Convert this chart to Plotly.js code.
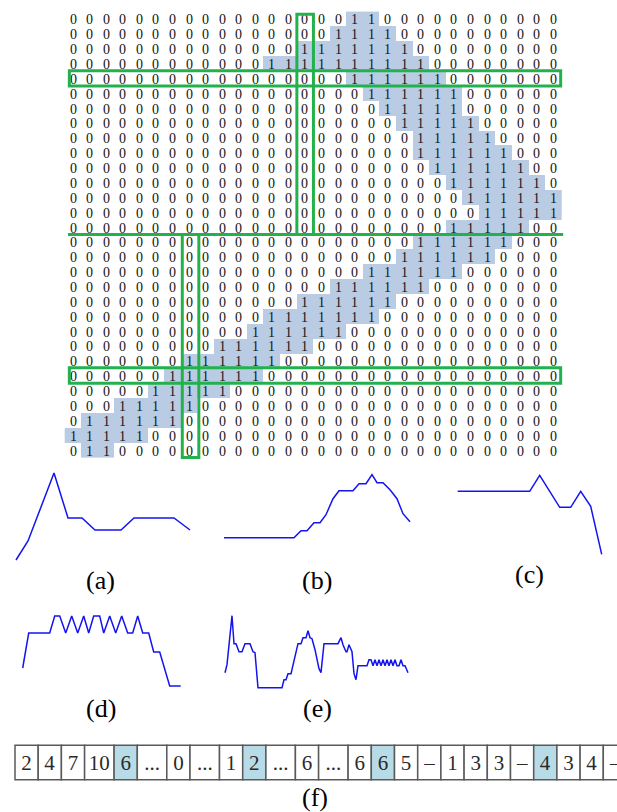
<!DOCTYPE html>
<html><head><meta charset="utf-8">
<script src="https://cdn.plot.ly/plotly-3.0.1.min.js"></script>
<style>html,body{margin:0;padding:0;background:#fff}</style>
</head><body><div id="chart" style="width:617px;height:812px"></div>
<script>
// ---------------- DATA ----------------
// binary matrix: for each of the 30 rows, the first and last column holding a 1
const nCols = 30;
const runStart = [18,17,15,13,18,19,20,21,22,22,23,24,25,26,24,22,21,19,17,15,13,12,10,8,7,6,4,2,1,2];
const runEnd   = [19,20,21,22,23,24,24,25,26,27,28,29,30,30,28,27,26,24,22,20,19,17,15,13,12,10,8,7,5,3];

// profile curves (a)-(e): sample position / intensity
const aX = [0,12,38,52,66,79,105,118,158,174];
const aY = [0,19,87,42,42,30,30,42,42,30];
const bX = [0,70,77,83,90,96,102,109,115,129,135,142,148,153,159,166,173,179,186];
const bY = [0,0,7,7,15,15,23,39,47,47,54,54,63,55,55,48,39,24,16];
const cX = [0,72,82,102,113,123,133,144];
const cY = [63,63,79,47,47,63,48,0];
const dX = [0,6,27,32,37,43,49,55,61,66,71,77,81,87,93,99,105,110,115,120,126,131,137,147,158];
const dY = [18,53,53,70,70,53,70,53,70,53,70,70,53,70,53,70,53,53,70,53,53,34,34,0,0];
const eX = [0,2,7,9,11,14,17,20,25,28,30,33,57,59,61,63,66,68,71,73,76,78,81,83,85,87,90,92,94,96,99,113,116,118,121,122,124,127,129,131,133,142,144,146,148,150,152,154,156,158,160,162,164,166,168,170,172,174,176,178,180,183];
const eY = [15,23,72,44,44,36,36,44,44,36,35,0,0,8,8,14,14,23,38,44,44,50,50,57,50,49,38,29,19,15,44,44,50,43,36,36,43,36,14,8,22,22,28,28,22,28,22,28,22,28,22,28,22,28,22,28,22,22,28,22,22,15];

// code sequence (f)
const tableLabels = ["2","4","7","10","6","...","0","...","1","2","...","6","...","6","6","5","–","1","3","3","–","4","3","4","–"];
const tableHighlighted = [4, 9, 14, 21];

const panelLabels = ["(a)","(b)","(c)","(d)","(e)","(f)"];

// ---------------- LAYOUT / STYLE ----------------
const W = 617, H = 812;
const px = x => x / W;
const py = y => 1 - y / H;
const GREEN = '#22b14c';
const BLUE_LINE = '#1414f0';
const SERIF = 'Liberation Serif, Times New Roman, serif';

// matrix
const z = [];
for (let r = 0; r < runStart.length; r++) {
  const row = [];
  for (let c = 1; c <= nCols; c++) row.push(c >= runStart[r] && c <= runEnd[r] ? 1 : 0);
  z.push(row);
}
const colIdx = Array.from({length: nCols}, (_, i) => i + 1);
const rowIdx = runStart.map((_, i) => i + 1);

const traces = [];
traces.push({
  type: 'heatmap', z: z, x: colIdx, y: rowIdx,
  colorscale: [[0, '#ffffff'], [1, '#b9cce4']], zmin: 0, zmax: 1,
  showscale: false, texttemplate: '%{z}',
  textfont: {family: SERIF, size: 14, color: '#141414'},
  hoverinfo: 'skip', xaxis: 'x', yaxis: 'y'
});

const layout = {
  width: W, height: H, margin: {l: 0, r: 0, t: 0, b: 0, pad: 0},
  paper_bgcolor: '#ffffff', plot_bgcolor: 'rgba(0,0,0,0)',
  showlegend: false, hovermode: false,
  shapes: [], annotations: []
};
const hiddenAxis = extra => Object.assign({
  showgrid: false, zeroline: false, showticklabels: false, ticks: '', showline: false, fixedrange: true
}, extra);

// heatmap axes (cell grid spans x 64.7..561.5, y 11.6..457.6 px)
const cw = (561.5 - 64.7) / 30, ch = (457.6 - 11.6) / 30;
layout.xaxis = hiddenAxis({domain: [px(64.7 - 0.2 * cw), px(561.5 + 0.2 * cw)], range: [0.3, 30.7], anchor: 'y'});
layout.yaxis = hiddenAxis({domain: [py(457.6 + 0.2 * ch), py(11.6 - 0.2 * ch)], range: [30.7, 0.3], anchor: 'x'});

// green selection boxes
const boxStyle = {color: GREEN, width: 3};
[
  {type: 'rect', x0: 0.78, x1: 30.45, y0: 4.48, y1: 5.51},
  {type: 'rect', x0: 14.52, x1: 15.52, y0: 0.68, y1: 15.5},
  {type: 'line', x0: 0.7, x1: 30.6, y0: 15.5, y1: 15.5},
  {type: 'rect', x0: 7.6, x1: 8.6, y0: 15.5, y1: 30.5},
  {type: 'rect', x0: 0.78, x1: 30.45, y0: 24.45, y1: 25.5}
].forEach(s => layout.shapes.push(Object.assign({xref: 'x', yref: 'y', line: boxStyle, layer: 'above'}, s)));

// profile plots: left / bottom pixel anchor of each
const profiles = [
  {x: aX, y: aY, left: 16, bottom: 560},
  {x: bX, y: bY, left: 224, bottom: 537.7},
  {x: cX, y: cY, left: 457.7, bottom: 554.3},
  {x: dX, y: dY, left: 22.7, bottom: 686},
  {x: eX, y: eY, left: 225, bottom: 687.7}
];
profiles.forEach((p, i) => {
  const n = i + 2, pad = 3;
  const xm = Math.max(...p.x), ym = Math.max(...p.y);
  layout['xaxis' + n] = hiddenAxis({domain: [px(p.left - pad), px(p.left + xm + pad)], range: [-pad, xm + pad], anchor: 'y' + n});
  layout['yaxis' + n] = hiddenAxis({domain: [py(p.bottom + pad), py(p.bottom - ym - pad)], range: [-pad, ym + pad], anchor: 'x' + n});
  traces.push({type: 'scatter', mode: 'lines', x: p.x, y: p.y, xaxis: 'x' + n, yaxis: 'y' + n,
    line: {color: BLUE_LINE, width: 1.5}, hoverinfo: 'skip'});
});

// table (f) as bars
const cellW = tableLabels.map(t => (t.length > 1 ? 29.5 : 23.2));
const centers = [];
let acc = 15;
cellW.forEach(w => { centers.push(acc + w / 2); acc += w; });
traces.push({
  type: 'bar', x: centers, y: tableLabels.map(() => 1), base: 0, width: cellW,
  text: tableLabels, textposition: 'inside', insidetextanchor: 'middle', textangle: 0,
  textfont: {family: SERIF, size: 21, color: '#2a2a2a'},
  marker: {color: tableLabels.map((_, i) => tableHighlighted.includes(i) ? '#b7dce7' : '#ffffff'),
           line: {color: '#5a5a5a', width: 1.5}},
  xaxis: 'x7', yaxis: 'y7', hoverinfo: 'skip'
});
layout.xaxis7 = hiddenAxis({domain: [0, 1], range: [0, W], anchor: 'y7'});
layout.yaxis7 = hiddenAxis({domain: [py(781), py(744)], range: [-0.04, 1.04], anchor: 'x7'});
layout.barmode = 'overlay';

// panel labels
const labelPos = [[100, 580], [317, 580], [529, 574], [101, 708], [317, 708], [315, 797]];
panelLabels.forEach((t, i) => layout.annotations.push({
  text: t, xref: 'paper', yref: 'paper', x: px(labelPos[i][0]), y: py(labelPos[i][1]),
  xanchor: 'center', yanchor: 'middle', showarrow: false,
  font: {family: SERIF, size: 26, color: '#000'}
}));

Plotly.newPlot('chart', traces, layout, {staticPlot: true, displayModeBar: false});
</script></body></html>
